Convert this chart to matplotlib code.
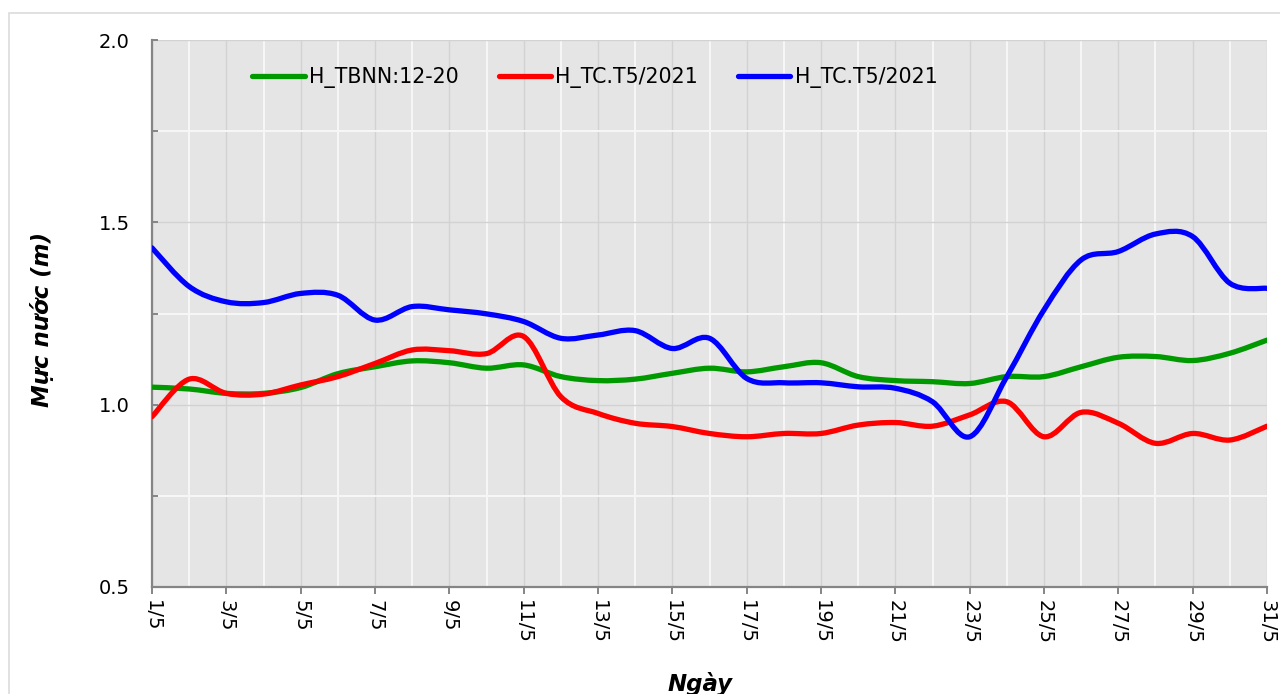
import matplotlib
matplotlib.use("Agg")
import matplotlib.pyplot as plt
from matplotlib.path import Path
from matplotlib.patches import PathPatch, Rectangle
from matplotlib.lines import Line2D
from matplotlib.ticker import MultipleLocator, FixedLocator
import numpy as np

# --- data ---
days = list(range(1, 32))
tick_days = list(range(1, 32, 2))
tick_labels = [f"{d}/5" for d in tick_days]

h_tbnn = [1.048, 1.043, 1.031, 1.031, 1.047, 1.085, 1.104, 1.120, 1.115, 1.100,
          1.109, 1.077, 1.066, 1.070, 1.086, 1.100, 1.090, 1.104, 1.115, 1.077,
          1.066, 1.063, 1.058, 1.077, 1.077, 1.104, 1.130, 1.132, 1.121, 1.141,
          1.177]
h_tc_red = [0.967, 1.070, 1.031, 1.029, 1.054, 1.077, 1.113, 1.150, 1.148, 1.140,
            1.187, 1.022, 0.976, 0.949, 0.940, 0.921, 0.912, 0.921, 0.921, 0.944,
            0.951, 0.941, 0.972, 1.008, 0.912, 0.979, 0.949, 0.894, 0.921, 0.903,
            0.941]
h_tc_blue = [1.430, 1.324, 1.282, 1.280, 1.305, 1.300, 1.232, 1.269, 1.260, 1.249,
             1.228, 1.182, 1.191, 1.203, 1.154, 1.182, 1.072, 1.060, 1.060, 1.049,
             1.045, 1.008, 0.912, 1.077, 1.260, 1.397, 1.420, 1.468, 1.461, 1.333,
             1.319]

series = [
    ("H_TBNN:12-20", h_tbnn, "#009900"),
    ("H_TC.T5/2021", h_tc_red, "#ff0000"),
    ("H_TC.T5/2021", h_tc_blue, "#0000ff"),
]


def smooth_path(x, y):
    """Excel-like smoothed line: cubic Bezier segments through every point."""
    x = np.asarray(x, float)
    y = np.asarray(y, float)
    n = len(x)
    verts = [(x[0], y[0])]
    codes = [Path.MOVETO]
    for i in range(n - 1):
        i0 = max(i - 1, 0)
        i3 = min(i + 2, n - 1)
        c1 = (x[i] + (x[i + 1] - x[i0]) / 6.0, y[i] + (y[i + 1] - y[i0]) / 6.0)
        c2 = (x[i + 1] - (x[i3] - x[i]) / 6.0, y[i + 1] - (y[i3] - y[i]) / 6.0)
        verts += [c1, c2, (x[i + 1], y[i + 1])]
        codes += [Path.CURVE4] * 3
    return Path(verts, codes)


fig = plt.figure(figsize=(12.8, 6.94), dpi=100)
fig.patch.set_facecolor("white")
fig.patches.append(Rectangle((8.5 / 1280, -0.05), 1.2, (694 - 13) / 694 + 0.05,
                             transform=fig.transFigure, facecolor="none",
                             edgecolor="#dcdcdc", lw=1.2, zorder=0))

ax = fig.add_axes([152 / 1280, 1 - 587 / 694, (1267 - 152) / 1280, (587 - 40) / 694])
ax.set_facecolor("#e5e5e5")

for label, vals, color in series:
    ax.add_patch(PathPatch(smooth_path(days, vals), facecolor="none", edgecolor=color,
                           lw=3.8, capstyle="round", joinstyle="round", zorder=3))

ax.set_xlim(1, 31)
ax.set_ylim(0.5, 2.0)

# grid: major lines light grey, minor lines white
ax.xaxis.set_major_locator(FixedLocator(tick_days))
ax.xaxis.set_minor_locator(FixedLocator(list(range(2, 31, 2))))
ax.yaxis.set_major_locator(MultipleLocator(0.5))
ax.yaxis.set_minor_locator(MultipleLocator(0.25))
ax.grid(which="major", color="#d2d2d2", lw=1.0, zorder=1)
ax.grid(which="minor", color="#f7f7f7", lw=1.4, zorder=1)
ax.set_axisbelow(True)

ax.set_xticklabels(tick_labels, rotation=270, fontsize=14)
ax.set_yticks([0.5, 1.0, 1.5, 2.0])
ax.set_yticklabels(["0.5", "1.0", "1.5", "2.0"], fontsize=14)

for side in ("top", "right"):
    ax.spines[side].set_visible(False)
for side in ("left", "bottom"):
    ax.spines[side].set_color("#858585")
    ax.spines[side].set_linewidth(1.6)

ax.tick_params(axis="x", which="major", direction="out", length=5, width=1.4,
               color="#858585", pad=4)
ax.tick_params(axis="x", which="minor", length=0)
ax.tick_params(axis="y", which="both", direction="in", length=4, width=1.4,
               color="#858585", pad=16)

ax.set_ylabel("Mực nước (m)", fontsize=16.5, fontweight="bold", style="italic")
ax.yaxis.set_label_coords(-(152 - 54) / 1115, 0.49)
fig.text(700 / 1280, 1 - 684 / 694, "Ngày", fontsize=16.5, fontweight="bold",
         style="italic", ha="center", va="center")

handles = [Line2D([], [], color=c, lw=3.8, solid_capstyle="round") for _, _, c in series]
ax.legend(handles, [s[0] for s in series], ncol=3, frameon=False, fontsize=14.8,
          loc="center left", bbox_to_anchor=(0.09, 0.932), handlelength=2.55,
          handletextpad=0.2, columnspacing=1.95, borderaxespad=0, borderpad=0)

fig.savefig("out.png", dpi=100)
